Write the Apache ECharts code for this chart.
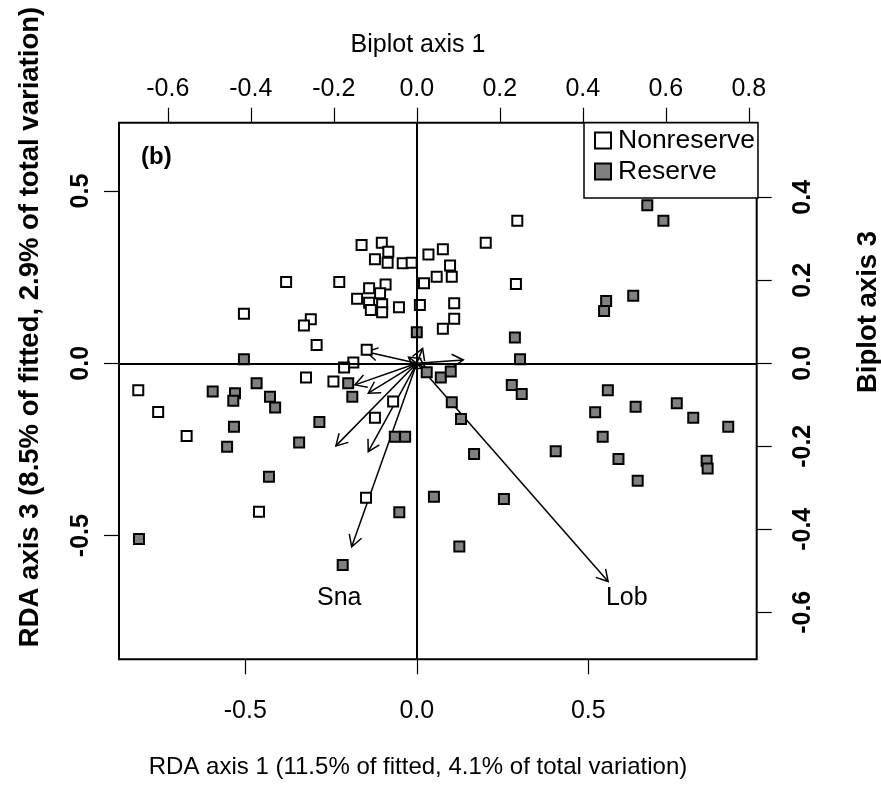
<!DOCTYPE html>
<html><head><meta charset="utf-8">
<script src="https://cdn.jsdelivr.net/npm/echarts@6/dist/echarts.min.js"></script>
<style>html,body{margin:0;padding:0;background:#fff}#c{width:881px;height:785px}</style>
</head><body><div id="c"></div>
<script>
// ---- data (RDA site scores, axis 1 vs axis 3) ----
const nonreserveX = [-0.161,-0.102,-0.083,-0.122,-0.085,-0.041,-0.015,-0.381,-0.226,-0.091,-0.139,-0.107,-0.174,-0.139,-0.101,-0.052,-0.134,-0.101,-0.504,-0.309,-0.329,-0.292,-0.146,0.034,0.076,0.097,0.058,0.102,0.021,0.009,0.109,0.109,0.076,0.293,0.201,0.289,-0.185,-0.212,-0.323,-0.243,-0.812,-0.754,-0.671,-0.069,-0.122,-0.148,-0.460];
const nonreserveY = [0.343,0.350,0.324,0.302,0.292,0.290,0.292,0.236,0.236,0.229,0.218,0.203,0.187,0.176,0.171,0.163,0.155,0.148,0.144,0.128,0.110,0.053,0.039,0.316,0.331,0.284,0.251,0.251,0.232,0.169,0.174,0.129,0.100,0.414,0.350,0.230,0.002,-0.012,-0.041,-0.053,-0.078,-0.141,-0.211,-0.111,-0.158,-0.390,-0.431];
const reserveX = [-0.504,0.000,0.672,0.719,0.552,0.546,0.631,0.286,0.301,-0.200,-0.188,-0.595,-0.530,-0.535,-0.467,-0.428,-0.413,-0.284,-0.533,-0.553,-0.343,-0.064,-0.034,-0.431,-0.051,-0.810,-0.216,0.029,0.070,0.099,0.277,0.306,0.102,0.129,0.167,0.405,0.050,0.254,0.124,0.557,0.638,0.758,0.806,0.908,0.520,0.542,0.588,0.845,0.848,0.644];
const reserveY = [0.012,0.090,0.459,0.414,0.181,0.152,0.196,0.075,0.012,-0.058,-0.097,-0.082,-0.087,-0.109,-0.058,-0.097,-0.128,-0.170,-0.184,-0.242,-0.230,-0.213,-0.213,-0.329,-0.432,-0.510,-0.585,-0.026,-0.041,-0.024,-0.063,-0.089,-0.113,-0.162,-0.263,-0.255,-0.387,-0.394,-0.532,-0.078,-0.126,-0.116,-0.158,-0.184,-0.142,-0.213,-0.278,-0.283,-0.305,-0.341];
// ---- biplot arrows (biplot axes 1 and 3) ----
const arrowX = [0.461,-0.157,-0.195,-0.117,-0.149,-0.117,-0.122,0.112,0.014,-0.020,0.022];
const arrowY = [-0.526,-0.442,-0.199,-0.213,-0.052,-0.072,0.028,0.008,0.036,0.015,-0.012];
const arrowLabelNames = ['Lob','Sna'];
const arrowLabelX = [0.506,-0.187];
const arrowLabelY = [-0.566,-0.566];
// ---- tick labels ----
const bottomTicks = [-0.5,0,0.5];
const leftTicks = [-0.5,0,0.5];
const topTicks = [-0.6,-0.4,-0.2,0,0.2,0.4,0.6,0.8];
const rightTicks = [-0.6,-0.4,-0.2,0,0.2,0.4];

const FONT = '"Liberation Sans", Arial, Helvetica, sans-serif';
const fmt = v => Number(v).toFixed(1);
const tickStyle = {color:'#000', width:1.2};
const labelBase = {fontSize:25, color:'#000', fontFamily:FONT, formatter:fmt};
const labelBold = Object.assign({}, labelBase, {fontWeight:'bold'});

const chart = echarts.init(document.getElementById('c'), null, {renderer:'canvas'});
chart.setOption({
  animation:false,
  backgroundColor:'#fff',
  grid:{left:119, right:124.3, top:122.7, bottom:125.7, show:true, borderColor:'#000', borderWidth:2, backgroundColor:'transparent', outerBoundsMode:'none'},
  xAxis:[
    {type:'value', position:'bottom', min:-0.8682, max:0.991,
     axisLine:{show:false, onZero:false}, splitLine:{show:false},
     axisTick:{show:true, length:15, lineStyle:tickStyle, customValues:bottomTicks},
     axisLabel:Object.assign({margin:39, customValues:bottomTicks}, labelBase)},
    {type:'value', position:'top', min:-0.7176, max:0.819,
     axisLine:{show:false, onZero:false}, splitLine:{show:false},
     axisTick:{show:true, length:15, lineStyle:tickStyle, customValues:topTicks},
     axisLabel:Object.assign({margin:21, customValues:topTicks}, labelBase)}
  ],
  yAxis:[
    {type:'value', position:'left', min:-0.859, max:0.6982,
     axisLine:{show:false, onZero:false}, splitLine:{show:false},
     axisTick:{show:true, length:15, lineStyle:tickStyle, customValues:leftTicks},
     axisLabel:Object.assign({margin:25, rotate:90, customValues:leftTicks}, labelBold)},
    {type:'value', position:'right', min:-0.7133, max:0.5798,
     axisLine:{show:false, onZero:false}, splitLine:{show:false},
     axisTick:{show:true, length:15, lineStyle:tickStyle, customValues:rightTicks},
     axisLabel:Object.assign({margin:34, rotate:90, customValues:rightTicks}, labelBold)}
  ],
  legend:{
    orient:'vertical', left:584, top:122.7, itemWidth:16, itemHeight:16, itemGap:4,
    padding:[4.3,3,13,10], borderColor:'#000', borderWidth:1.5, borderRadius:0, backgroundColor:'#fff',
    textStyle:{fontSize:26.5, color:'#000', fontFamily:FONT, lineHeight:26, padding:[0,0,0,2]},
    data:['Nonreserve','Reserve'], selectedMode:false
  },
  graphic:[
    {type:'text', x:141, y:157.5, style:{text:'(b)', fontSize:24, fontWeight:'bold', fontFamily:FONT, fill:'#000', verticalAlign:'middle'}},
    {type:'text', x:418, y:767, style:{text:'RDA axis 1 (11.5% of fitted, 4.1% of total variation)', fontSize:24, fontFamily:FONT, fill:'#000', align:'center', verticalAlign:'middle'}},
    {type:'text', x:418, y:45, style:{text:'Biplot axis 1', fontSize:25, fontFamily:FONT, fill:'#000', align:'center', verticalAlign:'middle'}},
    {type:'text', x:30, y:327, rotation:Math.PI/2, style:{text:'RDA axis 3 (8.5% of fitted, 2.9% of total variation)', fontSize:27.5, fontWeight:'bold', fontFamily:FONT, fill:'#000', align:'center', verticalAlign:'middle'}},
    {type:'text', x:868, y:312, rotation:Math.PI/2, style:{text:'Biplot axis 3', fontSize:27.5, fontWeight:'bold', fontFamily:FONT, fill:'#000', align:'center', verticalAlign:'middle'}}
  ],
  series:[
    {type:'custom', name:'arrows', xAxisIndex:1, yAxisIndex:1, z:1, silent:true,
     data: arrowX.map((x,i)=>[x, arrowY[i]]),
     renderItem(params, api){
       const o = api.coord([0,0]);
       const p = api.coord([api.value(0), api.value(1)]);
       const ang = Math.atan2(p[1]-o[1], p[0]-o[0]);
       const L = 13, a = Math.PI/6;
       const h1 = [p[0]-L*Math.cos(ang-a), p[1]-L*Math.sin(ang-a)];
       const h2 = [p[0]-L*Math.cos(ang+a), p[1]-L*Math.sin(ang+a)];
       return {type:'group', children:[
         {type:'line', shape:{x1:o[0],y1:o[1],x2:p[0],y2:p[1]}, style:{stroke:'#000', lineWidth:1.5}},
         {type:'polyline', shape:{points:[h1,p,h2]}, style:{stroke:'#000', lineWidth:1.5, fill:null}}
       ]};
     }},
    {type:'custom', name:'arrowLabels', xAxisIndex:1, yAxisIndex:1, z:2, silent:true,
     data: arrowLabelNames.map((n,i)=>[arrowLabelX[i], arrowLabelY[i], i]),
     renderItem(params, api){
       const p = api.coord([api.value(0), api.value(1)]);
       return {type:'text', x:p[0], y:p[1], style:{text:arrowLabelNames[api.value(2)], fontSize:25, fontFamily:FONT, fill:'#000', align:'center', verticalAlign:'middle'}};
     }},
    {type:'scatter', name:'Nonreserve', xAxisIndex:0, yAxisIndex:0, symbol:'rect', symbolSize:10, z:3,
     itemStyle:{color:'#fff', borderColor:'#000', borderWidth:2, opacity:1},
     data: nonreserveX.map((x,i)=>[x, nonreserveY[i]]),
     markLine:{silent:true, symbol:['none','none'], label:{show:false}, animation:false,
       lineStyle:{color:'#000', width:2, type:'solid'}, emphasis:{disabled:true},
       data:[{xAxis:0},{yAxis:0}]}},
    {type:'scatter', name:'Reserve', xAxisIndex:0, yAxisIndex:0, symbol:'rect', symbolSize:10, z:3,
     itemStyle:{color:'#808080', borderColor:'#000', borderWidth:2, opacity:1},
     data: reserveX.map((x,i)=>[x, reserveY[i]])}
  ]
});
</script></body></html>
